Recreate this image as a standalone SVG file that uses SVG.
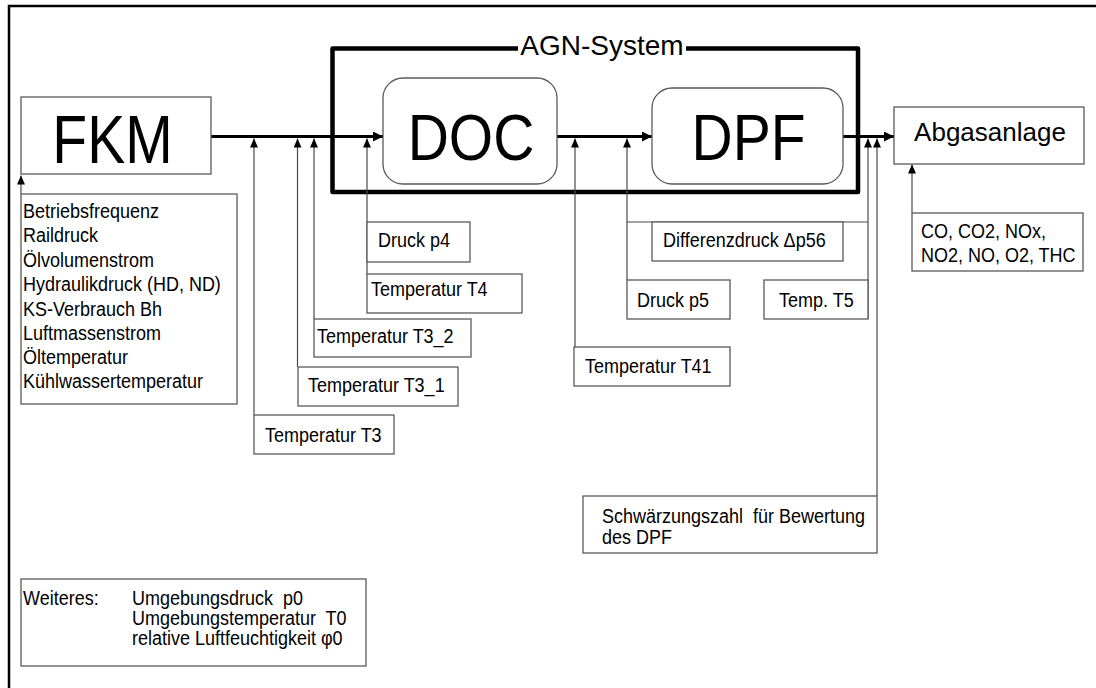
<svg xmlns="http://www.w3.org/2000/svg" width="1096" height="688" viewBox="0 0 1096 688">
  <style>
    .box { fill: #fff; stroke: #5a5a5a; stroke-width: 1.3; }
    .round { fill: #fff; stroke: #5a5a5a; stroke-width: 1.3; }
    .flow { fill: none; stroke: #000; stroke-width: 3; }
    .sig { fill: none; stroke: #4a4a4a; stroke-width: 1.2; }
    .frame { fill: none; stroke: #000; stroke-width: 4.5; stroke-linejoin: round; }
    text { font-family: "Liberation Sans", Arial, sans-serif; fill: #000; white-space: pre; }
    .t { font-size: 18px; transform-box: fill-box; transform-origin: 0 81%; transform: scaleY(1.1); }
    .big { font-size: 57px; text-anchor: middle; }
  </style>
  <defs>
    <marker id="headFlow" markerUnits="userSpaceOnUse" markerWidth="12" markerHeight="12" refX="10" refY="5" orient="auto">
      <path d="M0,0 L10,5 L0,10 Z" fill="#000"/>
    </marker>
    <marker id="headSig" markerUnits="userSpaceOnUse" markerWidth="10" markerHeight="10" refX="9" refY="4" orient="auto">
      <path d="M0,0 L9,4 L0,8 Z" fill="#000"/>
    </marker>
  </defs>

  <!-- page frame (top and left edges) -->
  <path d="M9,688 V6 H1096" fill="none" stroke="#000" stroke-width="2.5"/>

  <!-- AGN-System enclosure with title break -->
  <g id="agn-system">
    <path class="frame" d="M518,48.5 H332.5 V192 H858 V48.5 H686"/>
    <text x="602" y="55" font-size="28" text-anchor="middle">AGN-System</text>
  </g>

  <!-- connectors -->
  <g id="connectors">
    <!-- main exhaust flow -->
    <path class="flow" d="M211,136.5 H383" marker-end="url(#headFlow)"/>
    <path class="flow" d="M557,136.5 H652" marker-end="url(#headFlow)"/>
    <path class="flow" d="M843,136.5 H894" marker-end="url(#headFlow)"/>
    <!-- engine inputs -->
    <path class="sig" d="M21,194 V175.5" marker-end="url(#headSig)"/>
    <!-- measuring points -->
    <path class="sig" d="M254,415 V138.5" marker-end="url(#headSig)"/>
    <path class="sig" d="M297.5,367 V138.5" marker-end="url(#headSig)"/>
    <path class="sig" d="M314,319 V138.5" marker-end="url(#headSig)"/>
    <path class="sig" d="M367,274 V138.5" marker-end="url(#headSig)"/>
    <path class="sig" d="M575,347 V138.5" marker-end="url(#headSig)"/>
    <path class="sig" d="M627,280 V138.5" marker-end="url(#headSig)"/>
    <path class="sig" d="M627,222 H868"/>
    <path class="sig" d="M868,319 V138.5" marker-end="url(#headSig)"/>
    <path class="sig" d="M877,496 V138.5" marker-end="url(#headSig)"/>
    <path class="sig" d="M912,213 V164.5" marker-end="url(#headSig)"/>
  </g>

  <g id="fkm">
    <rect class="box" x="21" y="97" width="190" height="77"/>
    <text class="big" transform="translate(112.5 163) scale(1 1.2)">FKM</text>
  </g>

  <g id="doc">
    <rect class="round" x="383" y="78" width="174" height="106" rx="20"/>
    <text class="big" font-size="58" transform="translate(471 160) scale(1 1.15)">DOC</text>
  </g>

  <g id="dpf">
    <rect class="round" x="652" y="88" width="191" height="96" rx="20"/>
    <text class="big" transform="translate(748.5 160) scale(1 1.15)">DPF</text>
  </g>

  <g id="abgasanlage">
    <rect class="box" x="894" y="107" width="190" height="57"/>
    <text x="990" y="141" font-size="26" text-anchor="middle">Abgasanlage</text>
  </g>

  <g id="emissionen">
    <rect class="box" x="912" y="213" width="171" height="58"/>
    <text class="t" x="921" y="238">CO, CO2, NOx,</text>
    <text class="t" x="921" y="262">NO2, NO, O2, THC</text>
  </g>

  <g id="motorgroessen">
    <rect class="box" x="21" y="194" width="216" height="210"/>
    <text class="t" x="23" y="218">Betriebsfrequenz</text>
    <text class="t" x="23" y="242.5">Raildruck</text>
    <text class="t" x="23" y="267">Ölvolumenstrom</text>
    <text class="t" x="23" y="291.5">Hydraulikdruck (HD, ND)</text>
    <text class="t" x="23" y="316">KS-Verbrauch Bh</text>
    <text class="t" x="23" y="340">Luftmassenstrom</text>
    <text class="t" x="23" y="364">Öltemperatur</text>
    <text class="t" x="23" y="388">Kühlwassertemperatur</text>
  </g>

  <g id="t3">
    <rect class="box" x="254" y="415" width="140" height="39"/>
    <text class="t" x="265" y="442">Temperatur T3</text>
  </g>

  <g id="t3_1">
    <rect class="box" x="298" y="367" width="160" height="39"/>
    <text class="t" x="308" y="392">Temperatur T3_1</text>
  </g>

  <g id="t3_2">
    <rect class="box" x="314" y="319" width="157" height="38"/>
    <text class="t" x="317" y="343">Temperatur T3_2</text>
  </g>

  <g id="p4">
    <rect class="box" x="367" y="222" width="103" height="40"/>
    <text class="t" x="378" y="247">Druck p4</text>
  </g>

  <g id="t4">
    <rect class="box" x="367" y="274" width="155" height="39"/>
    <text class="t" x="371" y="296">Temperatur T4</text>
  </g>

  <g id="t41">
    <rect class="box" x="574" y="347" width="156" height="39"/>
    <text class="t" x="585" y="373">Temperatur T41</text>
  </g>

  <g id="dp56">
    <rect class="box" x="652" y="222" width="191" height="39"/>
    <text class="t" x="663" y="247">Differenzdruck Δp56</text>
  </g>

  <g id="p5">
    <rect class="box" x="627" y="280" width="103" height="39"/>
    <text class="t" x="637" y="307">Druck p5</text>
  </g>

  <g id="t5">
    <rect class="box" x="764" y="280" width="104" height="39"/>
    <text class="t" x="779" y="307">Temp. T5</text>
  </g>

  <g id="schwaerzungszahl">
    <rect class="box" x="583" y="496" width="294" height="57"/>
    <text class="t" x="602" y="523">Schwärzungszahl  für Bewertung</text>
    <text class="t" x="602" y="544">des DPF</text>
  </g>

  <g id="weiteres">
    <rect class="box" x="21" y="579" width="345" height="87"/>
    <text class="t" x="23" y="605">Weiteres:</text>
    <text class="t" x="132" y="605">Umgebungsdruck  p0</text>
    <text class="t" x="132" y="625">Umgebungstemperatur  T0</text>
    <text class="t" x="132" y="645">relative Luftfeuchtigkeit φ0</text>
  </g>
</svg>
